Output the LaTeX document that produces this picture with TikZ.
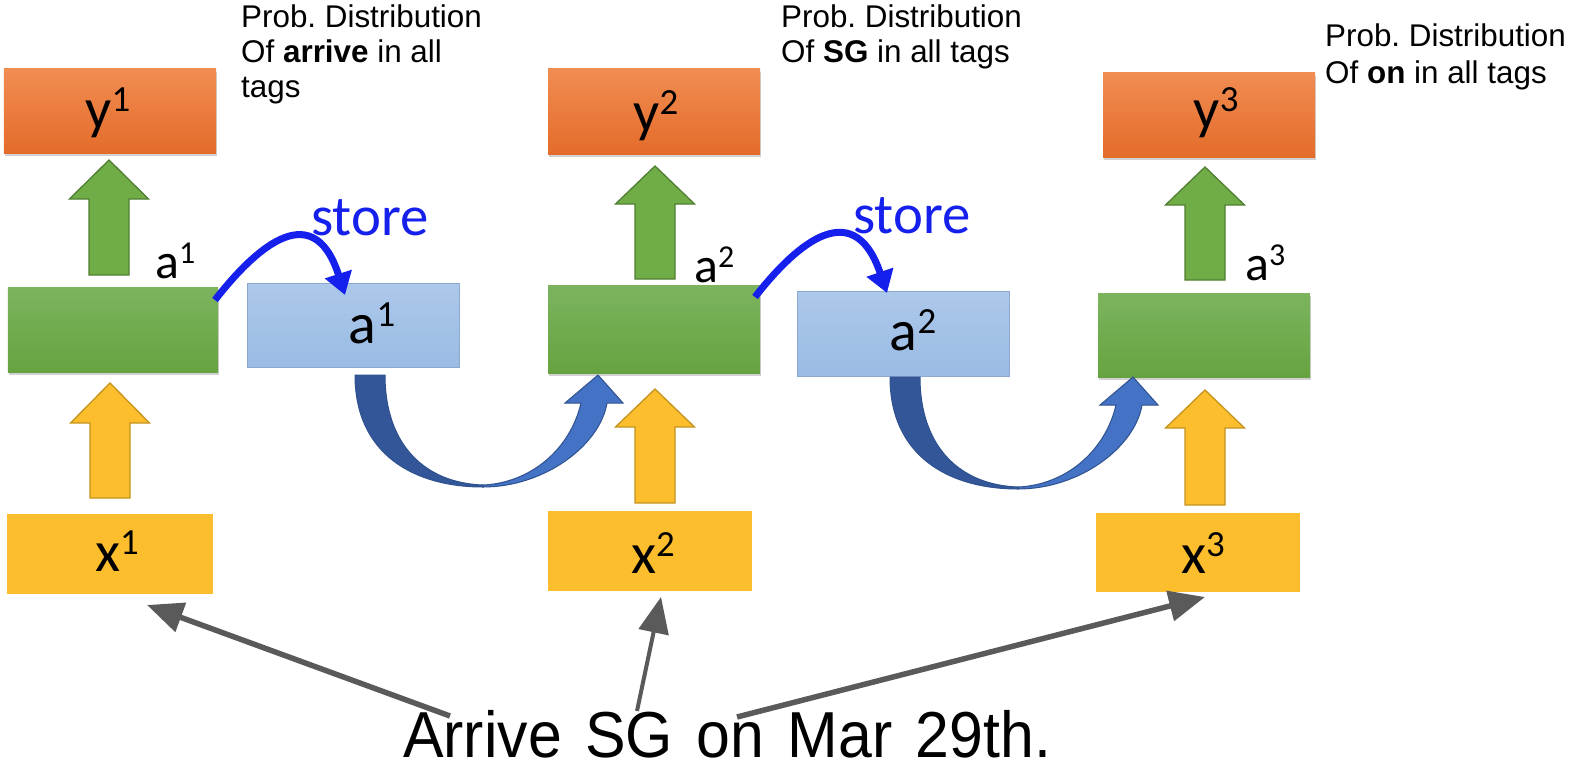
\documentclass[tikz,border=0pt]{standalone}
\usepackage{fontspec}
\setmainfont{Liberation Sans}
\newfontfamily\calibrifont{Carlito}
\usetikzlibrary{arrows.meta}
\frenchspacing

\definecolor{orTop}{RGB}{241,140,82}
\definecolor{orBot}{RGB}{228,108,42}
\definecolor{grTop}{RGB}{124,180,94}
\definecolor{grBot}{RGB}{102,163,64}
\definecolor{lbTop}{RGB}{172,200,234}
\definecolor{lbBot}{RGB}{154,187,228}
\definecolor{lbLine}{RGB}{140,168,208}
\definecolor{yel}{RGB}{252,190,45}
\definecolor{yelLine}{RGB}{196,148,30}
\definecolor{grArr}{RGB}{112,173,71}
\definecolor{grArrLine}{RGB}{80,126,50}
\definecolor{storeBlue}{RGB}{22,32,236}
\definecolor{curveDark}{RGB}{50,86,152}
\definecolor{curveLight}{RGB}{68,114,196}
\definecolor{curveLine}{RGB}{47,82,143}
\definecolor{pointer}{RGB}{90,90,90}

% labels inside the boxes and beside the hidden-state boxes
\newcommand\boxlabel[2]{{\calibrifont\fontsize{58}{58}\selectfont #1\raisebox{17bp}{\fontsize{37}{37}\selectfont #2}}}
\newcommand\sidelabel[2]{{\calibrifont\fontsize{50}{50}\selectfont #1\raisebox{15bp}{\fontsize{32}{32}\selectfont #2}}}

% block arrow pointing up: centre x, tip y, head base y, bottom y, fill, outline
\newcommand\blockup[6]{%
  \filldraw[fill=#5,draw=#6,line width=1.3bp]
    ({#1-20},{#4}) -- ({#1-20},{#3}) -- ({#1-39.5},{#3}) -- ({#1},{#2})
    -- ({#1+39.5},{#3}) -- ({#1+20},{#3}) -- ({#1+20},{#4}) -- cycle;}

% curved "carry-over" arrow, origin at the top-left of its tail
\newcommand\carryarrow[2]{%
  \begin{scope}[shift={(#1,#2)}]
    \filldraw[fill=curveDark,draw=curveLine,line width=1bp]
      (0,0) .. controls (0,80) and (60,112) .. (128,112) -- (128,110)
      .. controls (70,108) and (30,70) .. (30,0) -- cycle;
    \filldraw[fill=curveLight,draw=curveLine,line width=1bp]
      (128,112) .. controls (190,112) and (245,70) .. (252,28) -- (268,28)
      -- (243,0) -- (210,28) -- (226,28)
      .. controls (215,75) and (175,108) .. (128,110) -- cycle;
  \end{scope}}

\tikzset{
  shadowed/.style={preaction={fill=black,opacity=.18,transform canvas={shift={(1bp,-3bp)}}}},
  outbox/.style={shadowed,top color=orTop,bottom color=orBot,inner sep=0pt},
  hidbox/.style={shadowed,top color=grTop,bottom color=grBot,inner sep=0pt},
  memobox/.style={top color=lbTop,bottom color=lbBot,draw=lbLine,line width=1bp,inner sep=0pt},
  inbox/.style={fill=yel,inner sep=0pt},
  lbl/.style={anchor=base,inner sep=0pt},
  side/.style={anchor=base west,inner sep=0pt},
  prob/.style={anchor=base west,inner sep=0pt,font=\fontsize{31.5}{35}\selectfont},
  storetext/.style={anchor=base west,inner sep=0pt,text=storeBlue,
    font=\calibrifont\fontsize{57}{57}\selectfont},
  storearrow/.style={draw=storeBlue,line width=7bp,-{Triangle[length=22bp,width=27bp]}},
  pointerarrow/.style={draw=pointer,line width=5.5bp,-{Triangle[length=36bp,width=30bp]}}
}

\begin{document}
\begin{tikzpicture}[x=1bp,y=-1bp]
\fill[white] (0,0) rectangle (1573,764);
\useasboundingbox (0,0) rectangle (1573,764);

% output boxes
\node[outbox,minimum width=212bp,minimum height=84bp] (y1) at (110,111) {};
\node[outbox,minimum width=212bp,minimum height=85bp] (y2) at (654,111.5) {};
\node[outbox,minimum width=212bp,minimum height=84bp] (y3) at (1209,115) {};
% hidden-state boxes
\node[hidbox,minimum width=210bp,minimum height=85bp] (h1) at (113,329.5) {};
\node[hidbox,minimum width=212bp,minimum height=88bp] (h2) at (654,329) {};
\node[hidbox,minimum width=212bp,minimum height=84bp] (h3) at (1204,335) {};
% stored copies
\node[memobox,minimum width=212bp,minimum height=84bp] (m1) at (353,325) {};
\node[memobox,minimum width=212bp,minimum height=85bp] (m2) at (903,333.5) {};
% input boxes
\node[inbox,minimum width=206bp,minimum height=80bp] (x1) at (110,554) {};
\node[inbox,minimum width=204bp,minimum height=80bp] (x2) at (650,551) {};
\node[inbox,minimum width=204bp,minimum height=79bp] (x3) at (1198,552.5) {};

% box labels
\node[lbl] (ly1) at (108,128) {\boxlabel{y}{1}};
\node[lbl] (ly2) at (656,131) {\boxlabel{y}{2}};
\node[lbl] (ly3) at (1216,128) {\boxlabel{y}{3}};
\node[lbl] (lm1) at (372,343) {\boxlabel{a}{1}};
\node[lbl] (lm2) at (913,350) {\boxlabel{a}{2}};
\node[lbl] (lx1) at (117,571) {\boxlabel{x}{1}};
\node[lbl] (lx2) at (653,573) {\boxlabel{x}{2}};
\node[lbl] (lx3) at (1203,573) {\boxlabel{x}{3}};
\node[side] (la1) at (155,278) {\sidelabel{a}{1}};
\node[side] (la2) at (694,282) {\sidelabel{a}{2}};
\node[side] (la3) at (1245,280) {\sidelabel{a}{3}};

% block arrows: hidden state to output, input to hidden state
\blockup{109}{160}{199}{275}{grArr}{grArrLine}
\blockup{655}{166}{204}{279}{grArr}{grArrLine}
\blockup{1205}{167}{205}{280}{grArr}{grArrLine}
\blockup{110}{383}{423}{498}{yel}{yelLine}
\blockup{655}{389}{427}{503}{yel}{yelLine}
\blockup{1205}{390}{428}{505}{yel}{yelLine}

% stored state fed into the next step
\carryarrow{355}{375}
\carryarrow{890}{377}

% store arrows
\coordinate (s1a) at (215,300);
\coordinate (s1b) at (345,295);
\coordinate (s2a) at (755,297);
\coordinate (s2b) at (887,293);
\draw[storearrow] (s1a) .. controls (250,255) and (312,192) .. (s1b);
\draw[storearrow] (s2a) .. controls (790,252) and (852,190) .. (s2b);
\node[storetext] (st1) at (311,235) {store};
\node[storetext] (st2) at (853,233) {store};

% descriptions of the outputs
\node[prob] (p1a) at (241,28) {Prob. Distribution};
\node[prob] (p1b) at (241,63) {Of \textbf{arrive} in all};
\node[prob] (p1c) at (241,97) {tags};
\node[prob] (p2a) at (781,28) {Prob. Distribution};
\node[prob] (p2b) at (781,63) {Of \textbf{SG} in all tags};
\node[prob] (p3a) at (1325,47) {Prob. Distribution};
\node[prob] (p3b) at (1325,83) {Of \textbf{on} in all tags};

% input sentence and its words
\node[anchor=base west,inner sep=0pt] (sent) at (403,757)
  {\scalebox{1}[1.07]{\fontsize{61}{61}\selectfont\spaceskip=23.5bp Arrive SG on Mar 29th.}};
\coordinate (w1) at (450,716);
\coordinate (w2) at (637,711);
\coordinate (w3) at (737,717);
\coordinate (t1) at (147,605);
\coordinate (t2) at (661,597);
\coordinate (t3) at (1205,597);
\draw[pointerarrow] (w1) -- (t1);
\draw[pointerarrow,line width=4bp] (w2) -- (t2);
\draw[pointerarrow] (w3) -- (t3);
\end{tikzpicture}
\end{document}
